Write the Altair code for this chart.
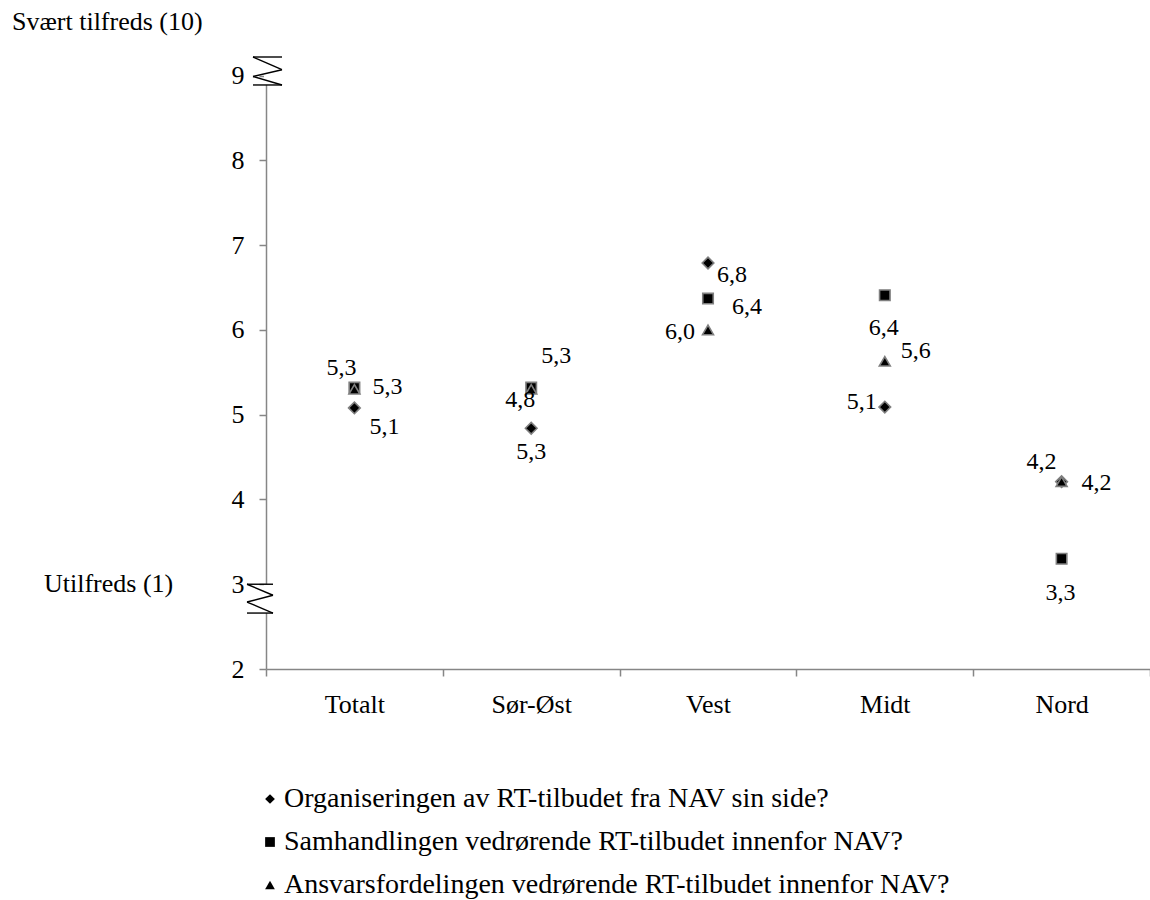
import altair as alt
import pandas as pd

# ---- data ---------------------------------------------------------------
categories = ["Totalt", "Sør-Øst", "Vest", "Midt", "Nord"]
series = [
    "Organiseringen av RT-tilbudet fra NAV sin side?",
    "Samhandlingen vedrørende RT-tilbudet innenfor NAV?",
    "Ansvarsfordelingen vedrørende RT-tilbudet innenfor NAV?",
]
organisering = [5.08, 4.84, 6.79, 5.09, 4.21]
samhandling = [5.32, 5.32, 6.37, 6.41, 3.30]
ansvar = [5.30, 5.30, 6.00, 5.63, 4.21]
y_ticks = [2, 3, 4, 5, 6, 7, 8, 9]
top_caption = "Svært tilfreds (10)"
bottom_caption = "Utilfreds (1)"

# ---- layout settings ----------------------------------------------------
FONT = "Liberation Serif"
GREY = "#868686"
W, H = 884, 612
Y_MAX = 9.22
shapes = ["diamond", "square", "triangle-up"]
marker_sizes = [135, 110, 120]

# pixel offsets (dx, dy) of each value label, per series and category
label_offsets = [
    [(30, 19), (-11, -28), (24, 12), (-23, -5), (-20, -20)],
    [(33, -1), (25, -32), (39, 8), (-1, 33), (-1, 34)],
    [(-13, -21), (0, 63), (-28, 2), (31, -10), (35, 1)],
]

rows = []
for name, vals in zip(series, [organisering, samhandling, ansvar]):
    for cat, v in zip(categories, vals):
        rows.append({"series": name, "category": cat, "value": v,
                     "label": f"{v:.1f}".replace(".", ",")})
df = pd.DataFrame(rows)

x_enc = alt.X(
    "category:N",
    sort=categories,
    scale=alt.Scale(type="band", domain=categories, paddingInner=0, paddingOuter=0),
    axis=alt.Axis(title=None, labelAngle=0, tickBand="extent", tickSize=7,
                  labelPadding=15, labelFontSize=26, labelFont=FONT,
                  labelColor="black", domainColor=GREY, tickColor=GREY,
                  domainWidth=1.5, tickWidth=1.5, grid=False),
)
y_enc = alt.Y(
    "value:Q",
    scale=alt.Scale(domain=[2, Y_MAX], nice=False, zero=False),
    axis=alt.Axis(title=None, values=y_ticks, format="d", tickSize=7,
                  labelPadding=15, labelFontSize=26, labelFont=FONT,
                  labelColor="black", domainColor=GREY, tickColor=GREY,
                  domainWidth=1.5, tickWidth=1.5, grid=False, labelFlush=False),
)
shape_enc = alt.Shape(
    "series:N",
    sort=series,
    scale=alt.Scale(domain=series, range=shapes),
    legend=alt.Legend(
        title=None, orient="none", legendX=-10, legendY=728,
        direction="vertical", symbolSize=95, symbolFillColor="black",
        symbolStrokeColor="#7f7f7f", symbolStrokeWidth=1.2,
        labelFont=FONT, labelFontSize=28, labelColor="black",
        labelOffset=0, rowPadding=15, padding=0, labelLimit=0,
    ),
)

base = alt.Chart(df)

# one point layer per series, drawn in series order (triangles on top)
point_layers = []
for name, size in zip(series, marker_sizes):
    point_layers.append(
        base.transform_filter(alt.FieldEqualPredicate(field="series", equal=name))
        .mark_point(filled=True, fill="black", stroke="#7f7f7f",
                    strokeWidth=1.6, opacity=1, size=size)
        .encode(x=x_enc, y=y_enc, shape=shape_enc)
    )

label_layers = []
for si, name in enumerate(series):
    for ci, cat in enumerate(categories):
        dx, dy = label_offsets[si][ci]
        label_layers.append(
            base.transform_filter(alt.FieldEqualPredicate(field="series", equal=name))
            .transform_filter(alt.FieldEqualPredicate(field="category", equal=cat))
            .mark_text(dx=dx, dy=dy, fontSize=24, font=FONT, color="black",
                       align="center", baseline="middle")
            .encode(x=x_enc, y=y_enc, text="label:N")
        )

# axis-break glyphs on the value axis (x in pixels from the axis, y in data units)
one = pd.DataFrame({"k": [0]})


def break_glyph(left, right, ys):
    y0, y1, y2, y3 = ys
    layers = [
        alt.Chart(one).mark_rect(color="white").encode(
            x=alt.value(-2), x2=alt.value(2), y=alt.datum(y0), y2=alt.datum(y3)),
    ]
    segs = [
        (left, y0, right, y0),
        (left, y0, right, y1),
        (right, y1, left, y2),
        (left, y2, right, y3),
        (left, y3, right, y3),
    ]
    for xa, ya, xb, yb in segs:
        layers.append(
            alt.Chart(one).mark_rule(color="black", strokeWidth=1.4).encode(
                x=alt.value(xa), x2=alt.value(xb), y=alt.datum(ya), y2=alt.datum(yb))
        )
    return layers


breaks = break_glyph(-13, 16, [Y_MAX, 9.07, 8.99, 8.89]) + \
    break_glyph(-19, 7, [3.0, 2.87, 2.79, 2.66])

captions = [
    alt.Chart(pd.DataFrame({"t": [top_caption]})).mark_text(
        align="left", baseline="middle", fontSize=26, font=FONT, color="black"
    ).encode(x=alt.value(-254), y=alt.value(-35), text="t:N"),
    alt.Chart(pd.DataFrame({"t": [bottom_caption]})).mark_text(
        align="left", baseline="middle", fontSize=26, font=FONT, color="black"
    ).encode(x=alt.value(-222), y=alt.datum(3.0), text="t:N"),
]

chart = (
    alt.layer(*point_layers, *label_layers, *breaks, *captions)
    .properties(
        width=W, height=H,
        autosize=alt.AutoSizeParams(type="none"),
        padding={"left": 266, "top": 57, "right": 0, "bottom": 231},
        background="white",
    )
    .configure(font=FONT)
    .configure_view(stroke="transparent", strokeWidth=0)
)

chart.save("out.html", embed_options={"renderer": "svg", "actions": False})
